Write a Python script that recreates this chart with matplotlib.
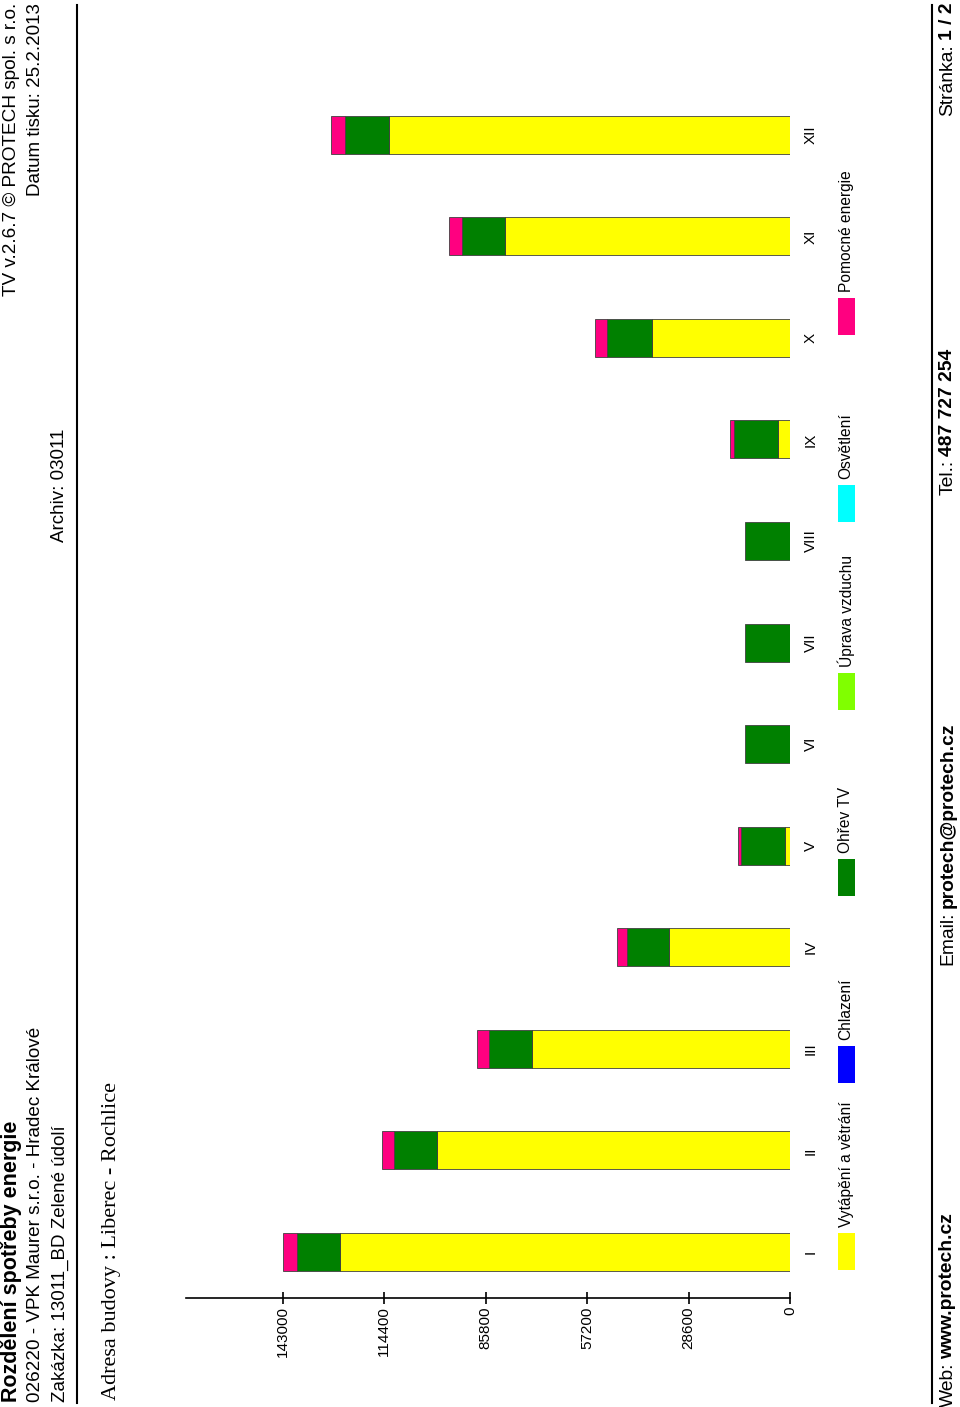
import numpy as np
import matplotlib
matplotlib.use("Agg")
import matplotlib.pyplot as plt
from matplotlib.patches import Rectangle
from matplotlib.lines import Line2D

# Data
months = ["I", "II", "III", "IV", "V", "VI", "VII", "VIII", "IX", "X", "XI", "XII"]
vytapeni = [126800, 99400, 72700, 34000, 1400, 0, 0, 0, 3400, 39000, 80300, 113200]
chlazeni = [0] * 12
ohrev_tv = [12200, 12300, 12300, 12000, 12400, 12600, 12600, 12600, 12300, 12600, 12300, 12200]
uprava = [0] * 12
osvetleni = [0] * 12
pomocne = [3900, 3400, 3300, 2700, 950, 0, 0, 0, 1200, 3400, 3500, 3900]
value_ticks = [0, 28600, 57200, 85800, 114400, 143000]

series_names = ["Vytápění a větrání", "Chlazení", "Ohřev TV", "Úprava vzduchu", "Osvětlení", "Pomocné energie"]
series_values = [vytapeni, chlazeni, ohrev_tv, uprava, osvetleni, pomocne]
series_colors = ["#FFFF00", "#0000FF", "#008000", "#80FF00", "#00FFFF", "#FF0080"]

plt.rcParams['font.family'] = ['Liberation Sans', 'DejaVu Sans']

W, H = 960, 1407
def fx(x):
    return x / W
def fy(y):
    return 1 - y / H

fig = plt.figure(figsize=(W / 100, H / 100), dpi=100)

# page is rotated: everything reads bottom to top
def rtext(x, y, s, va='bottom', **kw):
    return fig.text(fx(x), fy(y), s, rotation=90, ha='center', va=va, **kw)

def rtext_parts(x, y, parts, size, anchor='bottom'):
    """ Draws pieces of text one after the other (bottom to top), each with its own weight. """
    fig.canvas.draw()
    r = fig.canvas.get_renderer()
    pos = fy(y)
    if anchor == 'bottom':
        for s, w in parts:
            t = fig.text(fx(x), pos, s, rotation=90, ha='center', va='bottom', fontsize=size, fontweight=w)
            bb = t.get_window_extent(r)
            pos = fig.transFigure.inverted().transform((0, bb.y1 + 4))[1]
    else:
        for s, w in reversed(parts):
            t = fig.text(fx(x), pos, s, rotation=90, ha='center', va='top', fontsize=size, fontweight=w)
            bb = t.get_window_extent(r)
            pos = fig.transFigure.inverted().transform((0, bb.y0 - 4))[1]

## Header
rtext(12, 1402, "Rozdělení spotřeby energie", fontsize=15.5, fontweight='bold')
rtext(36, 1402, "026220 - VPK Maurer s.r.o. - Hradec Králové", fontsize=13.6)
rtext(60, 1402, "Zakázka: 13011_BD Zelené údolí", fontsize=13.5)
rtext(60, 485, "Archiv: 03011", va='center', fontsize=13.5)
rtext(12, 3, "TV v.2.6.7 © PROTECH spol. s r.o.", va='top', fontsize=13.7)
rtext(36, 3, "Datum tisku: 25.2.2013", va='top', fontsize=13.5)
fig.add_artist(Line2D([fx(77), fx(77)], [fy(5), fy(1403)], transform=fig.transFigure, color='black', lw=1.5))
rtext(112, 1400, "Adresa budovy : Liberec - Rochlice", fontsize=16, family='Liberation Serif')

## Chart
ax = fig.add_axes([fx(186), fy(1298), fx(790) - fx(186), fy(84) - fy(1298)])
pos = np.arange(len(months))
left = np.zeros(len(months))
for vals, c in zip(series_values, series_colors):
    vals = np.array(vals, dtype=float)
    idx = vals > 0
    if idx.any():
        ax.barh(pos[idx], vals[idx], left=left[idx], height=0.374, color=c, edgecolor='#404040', linewidth=0.6)
    left += vals

ax.set_xlim(170300, 0)
ax.set_ylim(-0.453, 11.5)
for s in ['top', 'left', 'right']:
    ax.spines[s].set_visible(False)
ax.spines['bottom'].set_linewidth(1.2)
ax.set_xticks(value_ticks)
ax.set_xticklabels([str(v) for v in value_ticks], rotation=90, fontsize=11)
ax.tick_params(axis='x', direction='inout', length=8, width=1.2, pad=2)
ax.yaxis.tick_right()
ax.set_yticks(pos)
ax.set_yticklabels(months, rotation=90, va='center', fontsize=11)
ax.tick_params(axis='y', length=0, pad=10)

## Legend
legend_y = [1270, 1083, 896, 710, 522, 335]
for name, c, yb in zip(series_names, series_colors, legend_y):
    fig.add_artist(Rectangle((fx(838), fy(yb)), fx(855) - fx(838), fy(yb - 37) - fy(yb),
                             transform=fig.transFigure, facecolor=c, edgecolor='none'))
    rtext(846, yb - 43, name, fontsize=11.2)

## Footer
fig.add_artist(Line2D([fx(932), fx(932)], [fy(5), fy(1403)], transform=fig.transFigure, color='black', lw=1.5))
rtext_parts(948, 1407, [("Web:", 'normal'), ("www.protech.cz", 'bold')], 13.9)
rtext_parts(948, 965, [("Email:", 'normal'), ("protech@protech.cz", 'bold')], 13.9)
rtext_parts(948, 495, [("Tel.:", 'normal'), ("487 727 254", 'bold')], 13.9)
rtext_parts(948, 3, [("Stránka:", 'normal'), ("1 / 2", 'bold')], 13.9, anchor='top')

fig.savefig("out.png", dpi=100)
